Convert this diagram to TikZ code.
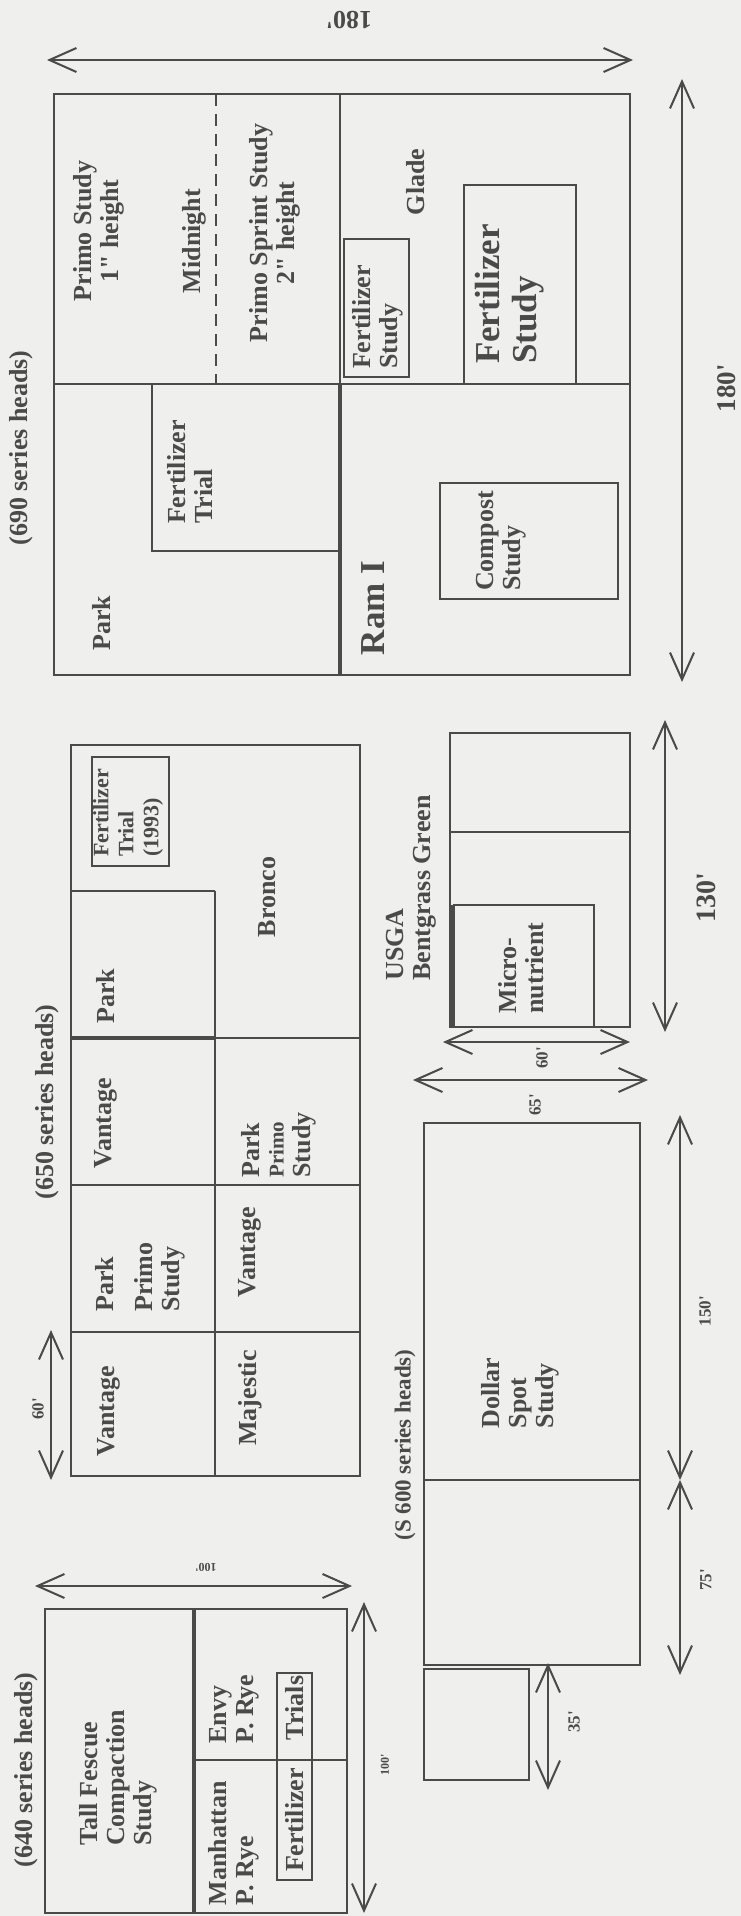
\documentclass[tikz,border=0pt]{standalone}
\usepackage{fontspec}
\setmainfont{Liberation Serif}[Ligatures=TeXOff]
\usetikzlibrary{arrows.meta}

\definecolor{paper}{HTML}{EFEFED}
\definecolor{ink}{HTML}{4A4A4A}

\begin{document}
\begin{tikzpicture}[
    x=1pt, y=-1pt,
    plot/.style={draw=ink, line width=2.2pt},
    heavy/.style={draw=ink, line width=3.6pt},
    dim/.style={draw=ink, line width=2pt,
        arrows={Straight Barb[length=27pt,width=24pt]-Straight Barb[length=27pt,width=24pt]}},
    txt/.style={text=ink, inner sep=0pt, rotate=90, align=left,
        font=\bfseries\fontsize{26pt}{27pt}\selectfont},
    bigtxt/.style={txt, font=\bfseries\fontsize{35pt}{37pt}\selectfont},
    dimtxt/.style={text=ink, inner sep=0pt, rotate=90,
        font=\bfseries\fontsize{17pt}{17pt}\selectfont},
    tinytxt/.style={text=ink, inner sep=0pt,
        font=\bfseries\fontsize{12pt}{12pt}\selectfont},
]
\def\W{741}
\def\H{1916}

% Paper
\fill[paper] (0,0) rectangle (\W,\H);

% 690 series block (180' x 180')
\draw[plot] (54,94) rectangle (630,675);
\draw[plot] (54,384) -- (630,384);
\draw[plot] (340,94) -- (340,384);
\draw[heavy] (340,384) -- (340,675);
\draw[plot, dash pattern=on 12pt off 8pt] (216,94) -- (216,384);
\draw[plot] (152,384) rectangle (340,551);
\draw[plot] (344,239) rectangle (409,377);
\draw[plot] (464,185) rectangle (576,384);
\draw[plot] (440,483) rectangle (618,599);

\node[txt, align=center] (primoA) at (99,231) {Primo Study\\1" height};
\node[txt] (midnight) at (194,241) {Midnight};
\node[txt, align=center] (primoB) at (275,233) {Primo Sprint Study\\2" height};
\node[txt] (glade) at (416,182) {Glade};
\node[txt] (fertSmall) at (378,317) {Fertilizer\\Study};
\node[bigtxt] (fertBig) at (510,294) {Fertilizer\\Study};
\node[txt] (parkA) at (102,623) {Park};
\node[txt] (fertTrialA) at (190,472) {Fertilizer\\Trial};
\node[bigtxt] (ram) at (373,608) {Ram I};
\node[txt] (compost) at (501,541) {Compost\\Study};
\node[txt] (headsA) at (21,448) {(690 series heads)};

% 690 dimensions
\draw[dim] (47,60) -- (633,60);
\node[text=ink, inner sep=0pt, rotate=180, font=\bfseries\fontsize{26pt}{26pt}\selectfont]
    (dimTop) at (349,20) {180'};
\draw[dim] (682,79) -- (682,682);
\node[dimtxt, font=\bfseries\fontsize{27pt}{27pt}\selectfont] (dimRight) at (727,388) {180'};

% 650 series block
\draw[plot] (71,745) rectangle (360,1476);
\draw[plot] (71,891) -- (215,891);
\draw[plot] (215,891) -- (215,1476);
\foreach \y in {1038,1185,1332} {
    \draw[plot] (71,\y) -- (360,\y);
}
\draw[heavy] (71,1038) -- (215,1038);
\draw[plot] (92,757) rectangle (169,866);

\node[txt, font=\bfseries\fontsize{22pt}{25pt}\selectfont] (fertTrialB) at (128,813)
    {Fertilizer\\Trial\\(1993)};
\node[txt] (bronco) at (267,897) {Bronco};
\node[txt] (parkB) at (106,996) {Park};
\node[txt] (vantA) at (106,1123) {Vantage};
\node[txt] (parkPrimoA) at (279,1145)
    {Park\\[-3pt]\fontsize{21pt}{22pt}\selectfont Primo\\Study};
\node[txt] (parkPrimoB) at (140,1277) {Park\\[12pt]Primo\\Study};
\node[txt] (vantB) at (250,1252) {Vantage};
\node[txt] (vantC) at (109,1411) {Vantage};
\node[txt] (majestic) at (250,1398) {Majestic};
\node[txt] (headsB) at (47,1102) {(650 series heads)};

% 650 dimension
\draw[dim] (51,1330) -- (51,1480);
\node[dimtxt] (dimB) at (38,1409) {60'};

% USGA bentgrass green
\draw[plot] (450,733) rectangle (630,1027);
\draw[plot] (450,832) -- (630,832);
\draw[plot] (454,905) rectangle (594,1027);
\draw[heavy] (452,905) -- (452,1027);
\node[txt] (usga) at (411,888) {USGA\\Bentgrass Green};
\node[txt] (micro) at (521,968) {Micro-\\nutrient};

\draw[dim] (443,1042) -- (630,1042);
\node[dimtxt] (dimC) at (542,1058) {60'};
\draw[dim] (413,1080) -- (648,1080);
\node[dimtxt] (dimD) at (535,1105) {65'};
\draw[dim] (665,720) -- (665,1032);
\node[dimtxt, font=\bfseries\fontsize{28pt}{28pt}\selectfont] (dimE) at (706,898) {130'};

% S 600 series block (dollar spot)
\draw[plot] (424,1123) rectangle (640,1665);
\draw[plot] (424,1480) -- (640,1480);
\draw[plot] (424,1669) rectangle (529,1780);
\node[txt] (dollar) at (520,1393) {Dollar\\Spot\\Study};
\node[txt, font=\bfseries\fontsize{23pt}{24pt}\selectfont] (headsC) at (405,1445)
    {(S 600 series heads)};

\draw[dim] (680,1115) -- (680,1480);
\node[dimtxt] (dimF) at (705,1311) {150'};
\draw[dim] (680,1480) -- (680,1675);
\node[dimtxt] (dimG) at (706,1580) {75'};
\draw[dim] (548,1663) -- (548,1790);
\node[dimtxt] (dimH) at (574,1722) {35'};

% 640 series block (100' x 100')
\draw[plot] (45,1609) rectangle (347,1913);
\draw[heavy] (194,1609) -- (194,1913);
\draw[plot] (194,1760) -- (347,1760);
\draw[plot] (277,1673) rectangle (312,1880);

\node[txt] (tall) at (118,1778) {Tall Fescue\\Compaction\\Study};
\node[txt] (envy) at (234,1709) {Envy\\P. Rye};
\node[txt] (manhattan) at (234,1843) {Manhattan\\P. Rye};
\node[txt] (trials) at (295,1708) {Trials};
\node[txt] (fertil) at (295,1820) {Fertilizer};
\node[txt] (headsD) at (26,1770) {(640 series heads)};

% 640 dimensions
\draw[dim] (35,1586) -- (352,1586);
\node[tinytxt, rotate=180] (dimI) at (206,1567) {100'};
\draw[dim] (364,1602) -- (364,1913);
\node[tinytxt, rotate=90] (dimJ) at (385,1765) {100'};

\end{tikzpicture}
\end{document}
